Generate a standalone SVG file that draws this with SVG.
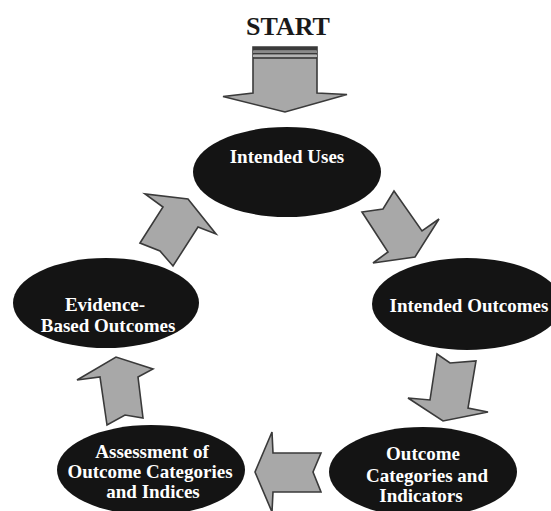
<svg xmlns="http://www.w3.org/2000/svg" width="551" height="511" viewBox="0 0 551 511">
  <style>
    .node ellipse { fill: #141414; }
    .node text { fill: #ffffff; font-family: "Liberation Serif", "Times New Roman", serif; font-weight: bold; font-size: 19px; text-anchor: middle; }
    .arrow { fill: #a8a8a8; stroke: #3a3a3a; stroke-width: 1.6; stroke-linejoin: miter; }
    .title { fill: #1a1a1a; font-family: "Liberation Serif", "Times New Roman", serif; font-weight: bold; font-size: 26px; text-anchor: middle; }
  </style>
  <rect width="551" height="511" fill="#ffffff"/>

  <g id="start">
    <text class="title" x="288" y="35">START</text>
  </g>

  <g id="connectors">
    <!-- entry arrow with banded top -->
    <g id="start-arrow">
      <polygon class="arrow" points="253,47 317,47 317,93 347,94.5 285,112 223,96.5 253,93"/>
      <rect x="253" y="47" width="64" height="3.5" fill="#3a3a3a"/>
      <rect x="253" y="50.5" width="64" height="2.5" fill="#8a8a8a"/>
      <rect x="253" y="53" width="64" height="1.6" fill="#3a3a3a"/>
      <rect x="253" y="54.6" width="64" height="2.6" fill="#b4b4b4"/>
      <rect x="253" y="57.2" width="64" height="1.6" fill="#3a3a3a"/>
    </g>
    <polygon id="uses-to-outcomes" class="arrow" points="362,212 383,209 394,191 422,231 439,219 415,257 373,263 388,252"/>
    <polygon id="outcomes-to-categories" class="arrow" points="437,354 450,363 476,361 468,408 488,412 443,421 408,398 430,400"/>
    <polygon id="categories-to-assessment" class="arrow" points="321,453 273,453 272,432 255,472 272,512 273,492 321,492 313,472"/>
    <polygon id="assessment-to-evidence" class="arrow" points="107,425 100,377 77,380 116,357 153,369 138,377 143,418 125,415"/>
    <polygon id="evidence-to-uses" class="arrow" points="140,243 163,207 145,194 188,199 216,234 198,227 173,266 160,251"/>
  </g>

  <g id="intended-uses" class="node">
    <ellipse cx="287" cy="172" rx="94" ry="45"/>
    <text x="287" y="163">Intended Uses</text>
  </g>

  <g id="intended-outcomes" class="node">
    <ellipse cx="467" cy="304" rx="95" ry="46"/>
    <text x="469" y="312">Intended Outcomes</text>
  </g>

  <g id="outcome-categories" class="node">
    <ellipse cx="423" cy="472" rx="94" ry="45"/>
    <text x="423" y="460">Outcome</text>
    <text x="427" y="482">Categories and</text>
    <text x="421" y="502">Indicators</text>
  </g>

  <g id="assessment" class="node">
    <ellipse cx="151" cy="470" rx="94" ry="45"/>
    <text x="152" y="458">Assessment of</text>
    <text x="150" y="478">Outcome Categories</text>
    <text x="153" y="498">and Indices</text>
  </g>

  <g id="evidence-based" class="node">
    <ellipse cx="106" cy="303" rx="93" ry="45"/>
    <text x="105" y="311">Evidence-</text>
    <text x="108" y="332">Based Outcomes</text>
  </g>
</svg>
